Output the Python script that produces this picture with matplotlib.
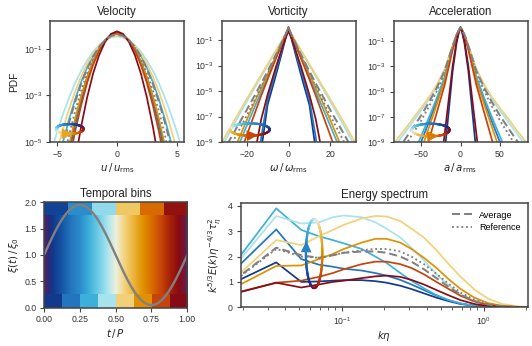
import numpy as np
import matplotlib
matplotlib.use("Agg")
import matplotlib.pyplot as plt
from matplotlib.colors import LinearSegmentedColormap
from matplotlib.collections import LineCollection
from matplotlib.ticker import NullLocator, FixedLocator

plt.rcParams['font.family'] = ['Liberation Sans', 'DejaVu Sans']
plt.rcParams['mathtext.fontset'] = 'dejavusans'
plt.rcParams['axes.edgecolor'] = '#444444'
plt.rcParams['axes.linewidth'] = 1.1
plt.rcParams['xtick.color'] = '#444444'
plt.rcParams['ytick.color'] = '#444444'
plt.rcParams['xtick.labelcolor'] = '#333333'
plt.rcParams['ytick.labelcolor'] = '#333333'
plt.rcParams['xtick.labelsize'] = 6.3
plt.rcParams['ytick.labelsize'] = 6.3
plt.rcParams['xtick.major.size'] = 3
plt.rcParams['ytick.major.size'] = 3
plt.rcParams['xtick.minor.size'] = 1.8
plt.rcParams['xtick.major.pad'] = 2.5
plt.rcParams['ytick.major.pad'] = 2.5
plt.rcParams['axes.labelsize'] = 7.3
plt.rcParams['axes.titlesize'] = 8.3
plt.rcParams['axes.labelcolor'] = '#222222'
plt.rcParams['axes.titlecolor'] = '#222222'

# ---------------- colormap (cyclic phase map) ----------------
CMAP_POS = [0.0, 0.03, 0.0625, 0.125, 0.1875, 0.25, 0.3125, 0.375, 0.4375, 0.5,
            0.5625, 0.625, 0.6875, 0.75, 0.8125, 0.875, 0.9375, 0.97, 1.0]
CMAP_COL = ['#5b2063', '#2a2a78', '#12398c', '#1556a5', '#2376be', '#2b8cca',
            '#3cb0da', '#6dcbe6', '#a6e3ee', '#eef0dd', '#f2d27a', '#ebb33a',
            '#e19200', '#d86c00', '#c8460a', '#a82208', '#8a0a12', '#761535', '#5b2063']
cmap = LinearSegmentedColormap.from_list('phase', list(zip(CMAP_POS, CMAP_COL)))

N_BINS = 8
N_BINS_TOP = 6
BIN_NAMES = ['navy', 'blue', 'cyan', 'lcyan', 'yellow', 'orange', 'redorange', 'darkred']

# ---------------- Velocity PDF (log10 PDF at |u|/u_rms) ----------------
VEL_X = [0, 0.5, 1, 1.5, 2, 2.5, 3, 3.5, 4, 4.5, 5, 5.5, 6]
vel_navy = [-0.32, -0.40, -0.63, -1.01, -1.55, -2.24, -3.09, -4.09, -5.24, -6.55, -8.01, -9.63, -11.4]
vel_blue = [-0.31, -0.39, -0.63, -1.04, -1.60, -2.33, -3.22, -4.26, -5.48, -6.85, -8.38, -10.08, -11.93]
vel_cyan = [-0.39, -0.45, -0.62, -0.90, -1.29, -1.80, -2.42, -3.16, -4.01, -4.97, -6.04, -7.23, -8.53]
vel_lcyan = [-0.46, -0.50, -0.62, -0.83, -1.12, -1.49, -1.94, -2.47, -3.09, -3.78, -4.56, -5.43, -6.37]
vel_yellow = [-0.42, -0.47, -0.62, -0.86, -1.21, -1.65, -2.19, -2.83, -3.57, -4.41, -5.34, -6.38, -7.51]
vel_orange = [-0.33, -0.41, -0.63, -1.01, -1.53, -2.21, -3.03, -4.01, -5.14, -6.41, -7.84, -9.42, -11.15]
vel_redorange = [-0.30, -0.39, -0.65, -1.08, -1.69, -2.47, -3.43, -4.55, -5.86, -7.33, -8.99, -10.81, -12.81]
vel_darkred = [-0.24, -0.35, -0.70, -1.27, -2.06, -3.09, -4.34, -5.82, -7.54, -9.47, -11.64, -14.03, -16.65]
vel_avg = [-0.38, -0.44, -0.62, -0.91, -1.32, -1.85, -2.50, -3.27, -4.15, -5.15, -6.27, -7.51, -8.86]
vel_ref = [-0.35, -0.42, -0.62, -0.96, -1.44, -2.05, -2.79, -3.67, -4.69, -5.85, -7.14, -8.56, -10.12]

# ---------------- Vorticity PDF ----------------
VOR_X = [0, 1, 3, 6, 10, 13, 16, 20, 25, 30, 35]
vor_navy = [0.00, -0.60, -1.90, -3.75, -6.10, -9.60, -14.0, -19.0, -25.0, -31.0, -37.0]
vor_blue = [0.00, -0.55, -1.70, -3.40, -5.70, -8.60, -12.5, -17.5, -23.0, -29.0, -35.0]
vor_cyan = [-0.05, -0.45, -1.20, -2.35, -3.90, -5.05, -6.20, -7.75, -9.70, -11.6, -13.5]
vor_lcyan = [-0.10, -0.43, -1.02, -1.85, -3.00, -3.85, -4.70, -5.85, -7.30, -8.80, -10.3]
vor_yellow = [-0.10, -0.43, -1.00, -1.80, -2.90, -3.72, -4.55, -5.65, -7.05, -8.50, -9.95]
vor_orange = [-0.05, -0.43, -1.15, -2.25, -3.70, -4.75, -5.80, -7.30, -9.25, -11.2, -13.2]
vor_redorange = [-0.10, -0.48, -1.25, -2.45, -4.10, -5.35, -6.70, -8.50, -10.8, -13.0, -15.0]
vor_darkred = [-0.30, -0.70, -1.60, -3.10, -5.30, -7.20, -9.80, -13.5, -18.0, -22.0, -26.0]
vor_avg = [-0.05, -0.42, -1.12, -2.15, -3.45, -4.40, -5.30, -6.50, -7.95, -9.40, -10.8]
vor_ref = [-0.05, -0.43, -1.15, -2.25, -3.65, -4.65, -5.65, -6.95, -8.50, -10.1, -11.7]

# ---------------- Acceleration PDF ----------------
ACC_X = [0, 2, 5, 10, 20, 30, 40, 50, 60, 70, 80, 90]
acc_navy = [0.08, -0.30, -1.15, -3.40, -9.80, -16.0, -22.0, -28.0, -34.0, -40.0, -46.0, -52.0]
acc_blue = [0.08, -0.13, -0.53, -1.55, -3.95, -5.75, -7.40, -9.00, -10.6, -12.2, -13.8, -15.4]
acc_cyan = [0.08, -0.13, -0.52, -1.50, -3.80, -5.50, -7.05, -8.55, -10.0, -11.5, -13.0, -14.5]
acc_lcyan = [0.05, -0.15, -0.50, -1.37, -3.25, -4.55, -5.60, -6.50, -7.35, -8.20, -9.05, -9.90]
acc_yellow = [0.05, -0.15, -0.50, -1.35, -3.20, -4.45, -5.45, -6.30, -7.10, -7.95, -8.75, -9.55]
acc_orange = [0.08, -0.13, -0.54, -1.60, -4.10, -6.00, -7.85, -9.65, -11.4, -13.2, -15.0, -16.8]
acc_redorange = [0.08, -0.14, -0.56, -1.70, -4.45, -6.65, -8.85, -11.0, -13.2, -15.4, -17.6, -19.8]
acc_darkred = [0.10, -0.25, -1.00, -3.00, -8.30, -13.5, -19.0, -24.5, -30.0, -35.5, -41.0, -46.5]
acc_avg = [0.08, -0.13, -0.50, -1.40, -3.35, -4.70, -5.85, -6.90, -7.85, -8.75, -9.65, -10.5]
acc_ref = [0.08, -0.13, -0.50, -1.43, -3.50, -4.95, -6.20, -7.30, -8.30, -9.25, -10.2, -11.1]

# ---------------- Energy spectrum ----------------
K_ETA = [0.01725, 0.0345, 0.0518, 0.069, 0.0863, 0.1035, 0.138, 0.1725, 0.207, 0.259,
         0.31, 0.38, 0.466, 0.569, 0.69, 0.863, 1.07, 1.35, 1.725, 2.07]
spec_navy = [0.97, 1.77, 1.00, 1.02, 1.05, 1.07, 1.07, 1.03, 0.97, 0.85, 0.72, 0.55, 0.38, 0.24, 0.13, 0.06, 0.02, 0.01, 0.0, 0.0]
spec_blue = [1.44, 3.07, 1.90, 1.68, 1.60, 1.52, 1.45, 1.35, 1.25, 1.08, 0.90, 0.68, 0.46, 0.28, 0.15, 0.06, 0.02, 0.01, 0.0, 0.0]
spec_cyan = [1.68, 3.90, 3.05, 2.80, 2.65, 2.52, 2.30, 2.00, 1.75, 1.35, 1.05, 0.75, 0.48, 0.28, 0.15, 0.06, 0.02, 0.005, 0.0, 0.0]
spec_lcyan = [1.57, 3.60, 3.30, 3.35, 3.55, 3.62, 3.55, 3.35, 3.10, 2.75, 2.35, 1.85, 1.30, 0.85, 0.50, 0.22, 0.09, 0.03, 0.01, 0.0]
spec_yellow = [1.10, 2.65, 2.45, 2.80, 3.05, 3.25, 3.50, 3.60, 3.58, 3.40, 3.10, 2.75, 2.25, 1.70, 1.20, 0.70, 0.35, 0.13, 0.04, 0.01]
spec_orange = [0.76, 1.63, 1.65, 1.90, 2.10, 2.30, 2.55, 2.70, 2.70, 2.55, 2.30, 1.95, 1.55, 1.10, 0.72, 0.38, 0.17, 0.06, 0.02, 0.0]
spec_redorange = [0.55, 0.97, 1.05, 1.20, 1.35, 1.50, 1.70, 1.80, 1.80, 1.70, 1.55, 1.30, 1.00, 0.72, 0.45, 0.23, 0.10, 0.03, 0.01, 0.0]
spec_darkred = [0.53, 0.97, 0.78, 0.90, 1.00, 1.05, 1.15, 1.22, 1.25, 1.20, 1.08, 0.90, 0.68, 0.47, 0.28, 0.13, 0.05, 0.02, 0.0, 0.0]
spec_avg = [1.04, 2.35, 2.05, 1.95, 2.05, 2.15, 2.20, 2.20, 2.15, 2.00, 1.80, 1.50, 1.15, 0.80, 0.50, 0.25, 0.11, 0.04, 0.01, 0.0]
spec_ref = [1.01, 2.30, 2.00, 1.95, 2.05, 2.15, 2.25, 2.30, 2.30, 2.20, 2.00, 1.70, 1.32, 0.92, 0.58, 0.30, 0.13, 0.05, 0.01, 0.0]

# ---------------- Temporal modulation ----------------
XI_AMPLITUDE = 0.95

# phase-loop annotations: (centre x, half-width, centre y, half-height, colour offset, arrow phase)
VEL_LOOP = (-3.95, 1.15, -4.44, 0.21, -0.10, 0.75)
VOR_LOOP = (-18.5, 9.5, -8.02, 0.48, 0.03, 0.78)
ACC_LOOP = (-38.0, 24.0, -8.05, 0.50, -0.05, 0.78)
SPEC_LOOP = (-1.195, 0.058, 2.12, 1.36, -0.05, 0.27)

W, H = 532, 346
fig = plt.figure(figsize=(W / 100, H / 100), dpi=100)


def box(l, r, t, b):
    return [l / W, 1 - b / H, (r - l) / W, (b - t) / H]


ax_vel = fig.add_axes(box(50, 184, 21, 142))
ax_vor = fig.add_axes(box(221.5, 355.5, 21, 142))
ax_acc = fig.add_axes(box(393.5, 527.5, 21, 142))
ax_tb = fig.add_axes(box(44, 187.3, 202.3, 307.7))
ax_sp = fig.add_axes(box(240.5, 527.7, 203.3, 307.3))

bin_cols = [cmap((i + 0.5) / N_BINS) for i in range(N_BINS)]
GRAY = '#808080'
LW = 1.25


def sym(xh, yh):
    xh = np.asarray(xh, float)
    yh = np.asarray(yh, float)
    return np.concatenate([-xh[::-1], xh[1:]]), 10.0 ** np.concatenate([yh[::-1], yh[1:]])


def draw_pdf(ax, xg, series, avg, ref):
    for s, c in zip(series, bin_cols):
        x, y = sym(xg, s)
        ax.plot(x, y, color=c, lw=LW, solid_capstyle='round')
    x, y = sym(xg, avg)
    ax.plot(x, y, color=GRAY, lw=LW + 0.2, ls=(0, (4, 2)))
    x, y = sym(xg, ref)
    ax.plot(x, y, color=GRAY, lw=LW + 0.1, ls=(0, (1, 1.5)))


def loop_logy(ax, p):
    xc, a, lc, al, off, ph = p
    phi = np.linspace(0, 1, 241)
    x = xc + a * np.cos(2 * np.pi * phi)
    y = 10 ** (lc + al * np.sin(2 * np.pi * phi))
    pts = np.column_stack([x, y])
    segs = np.stack([pts[:-1], pts[1:]], axis=1)
    lc_ = LineCollection(segs, colors=[cmap((f + off) % 1) for f in phi[:-1]], lw=1.6,
                         capstyle='round', zorder=5)
    ax.add_collection(lc_)
    d = 0.04
    p0 = (xc + a * np.cos(2 * np.pi * (ph - d)), 10 ** (lc + al * np.sin(2 * np.pi * (ph - d))))
    p1 = (xc + a * np.cos(2 * np.pi * (ph + d)), 10 ** (lc + al * np.sin(2 * np.pi * (ph + d))))
    ax.annotate('', xy=p1, xytext=p0,
                arrowprops=dict(arrowstyle='-|>,head_length=0.75,head_width=0.35',
                                color=cmap((ph + off) % 1), lw=0, shrinkA=0, shrinkB=0,
                                mutation_scale=11), zorder=6)


draw_pdf(ax_vel, VEL_X, [vel_navy, vel_blue, vel_cyan, vel_lcyan, vel_yellow, vel_orange,
                         vel_redorange, vel_darkred], vel_avg, vel_ref)
draw_pdf(ax_vor, VOR_X, [vor_navy, vor_blue, vor_cyan, vor_lcyan, vor_yellow, vor_orange,
                         vor_redorange, vor_darkred], vor_avg, vor_ref)
draw_pdf(ax_acc, ACC_X, [acc_navy, acc_blue, acc_cyan, acc_lcyan, acc_yellow, acc_orange,
                         acc_redorange, acc_darkred], acc_avg, acc_ref)
loop_logy(ax_vel, VEL_LOOP)
loop_logy(ax_vor, VOR_LOOP)
loop_logy(ax_acc, ACC_LOOP)

for ax, xl, yl, yt, xt, lab, ttl in [
        (ax_vel, 5.6, (1e-5, 1.6), [1e-1, 1e-3, 1e-5], [-5, 0, 5], r'$u\,/\,u_{\rm rms}$', 'Velocity'),
        (ax_vor, 32, (1e-9, 3.1), [1e-1, 1e-3, 1e-5, 1e-7, 1e-9], [-20, 0, 20], r'$\omega\,/\,\omega_{\rm rms}$', 'Vorticity'),
        (ax_acc, 85, (1e-9, 3.9), [1e-1, 1e-3, 1e-5, 1e-7, 1e-9], [-50, 0, 50], r'$a\,/\,a_{\rm rms}$', 'Acceleration')]:
    ax.set_yscale('log')
    ax.set_xlim(-xl, xl)
    ax.set_ylim(*yl)
    ax.yaxis.set_major_locator(FixedLocator(yt))
    ax.yaxis.set_minor_locator(NullLocator())
    ax.set_xticks(xt)
    ax.set_xlabel(lab, labelpad=2)
    ax.set_title(ttl, pad=4)
ax_vel.set_ylabel('PDF', labelpad=3)

# ---------------- Temporal bins ----------------
grad = np.linspace(0, 1, 512)[None, :]
ax_tb.imshow(grad, extent=[0, 1, 0.25, 1.75], aspect='auto', cmap=cmap, vmin=0, vmax=1,
             interpolation='bilinear')
top = ((np.arange(N_BINS_TOP) + 0.5) / N_BINS_TOP)[None, :]
ax_tb.imshow(top, extent=[0, 1, 1.75, 2.0], aspect='auto', cmap=cmap, vmin=0, vmax=1,
             interpolation='nearest')
bot = ((np.arange(N_BINS) + 0.5) / N_BINS)[None, :]
ax_tb.imshow(bot, extent=[0, 1, 0.0, 0.25], aspect='auto', cmap=cmap, vmin=0, vmax=1,
             interpolation='nearest')
tt = np.linspace(0, 1, 300)
ax_tb.plot(tt, 1 + XI_AMPLITUDE * np.sin(2 * np.pi * tt), color=GRAY, lw=1.7)
ax_tb.set_xlim(0, 1)
ax_tb.set_ylim(0, 2)
ax_tb.set_xticks([0, 0.25, 0.5, 0.75, 1.0])
ax_tb.set_xticklabels(['0.00', '0.25', '0.50', '0.75', '1.00'])
ax_tb.set_yticks([0, 0.5, 1.0, 1.5, 2.0])
ax_tb.set_yticklabels(['0.0', '0.5', '1.0', '1.5', '2.0'])
ax_tb.set_xlabel(r'$t\,/\,P$', labelpad=2)
ax_tb.set_ylabel(r'$\xi(t)\,/\,\xi_0$', labelpad=2)
ax_tb.set_title('Temporal bins', pad=4)

# ---------------- Energy spectrum ----------------
for s, c in zip([spec_navy, spec_blue, spec_cyan, spec_lcyan, spec_yellow, spec_orange,
                 spec_redorange, spec_darkred], bin_cols):
    ax_sp.plot(K_ETA, s, color=c, lw=LW)
ax_sp.plot(K_ETA, spec_avg, color=GRAY, lw=LW + 0.2, ls=(0, (4, 2)), label='Average')
ax_sp.plot(K_ETA, spec_ref, color=GRAY, lw=LW + 0.1, ls=(0, (1, 1.5)), label='Reference')

lcx, a, yc, b, off, ph = SPEC_LOOP
phi = np.linspace(0, 1, 241)
lx = 10 ** (lcx - a * np.sin(2 * np.pi * phi))
ly = yc - b * np.cos(2 * np.pi * phi)
pts = np.column_stack([lx, ly])
segs = np.stack([pts[:-1], pts[1:]], axis=1)
ax_sp.add_collection(LineCollection(segs, colors=[cmap((f + off) % 1) for f in phi[:-1]],
                                    lw=1.6, capstyle='round', zorder=5))
d = 0.04
q0 = (10 ** (lcx - a * np.sin(2 * np.pi * (ph - d))), yc - b * np.cos(2 * np.pi * (ph - d)))
q1 = (10 ** (lcx - a * np.sin(2 * np.pi * (ph + d))), yc - b * np.cos(2 * np.pi * (ph + d)))
ax_sp.annotate('', xy=q1, xytext=q0,
               arrowprops=dict(arrowstyle='-|>,head_length=0.75,head_width=0.35',
                               color=cmap((ph + off) % 1), lw=0, shrinkA=0, shrinkB=0,
                               mutation_scale=11), zorder=6)

ax_sp.set_xscale('log')
ax_sp.set_xlim(0.0193, 2.05)
ax_sp.set_ylim(0, 4.1)
ax_sp.set_yticks([0, 1, 2, 3, 4])
ax_sp.set_xlabel(r'$k\eta$', labelpad=2)
ax_sp.set_ylabel(r'$k^{5/3}E(k)\eta^{-4/3}\tau_\eta^{2}$', labelpad=3)
ax_sp.set_title('Energy spectrum', pad=4)
ax_sp.legend(loc='upper right', frameon=False, fontsize=6.5, handlelength=2.2,
             borderaxespad=0.4, labelspacing=0.4)

fig.savefig('out.png', dpi=100)
